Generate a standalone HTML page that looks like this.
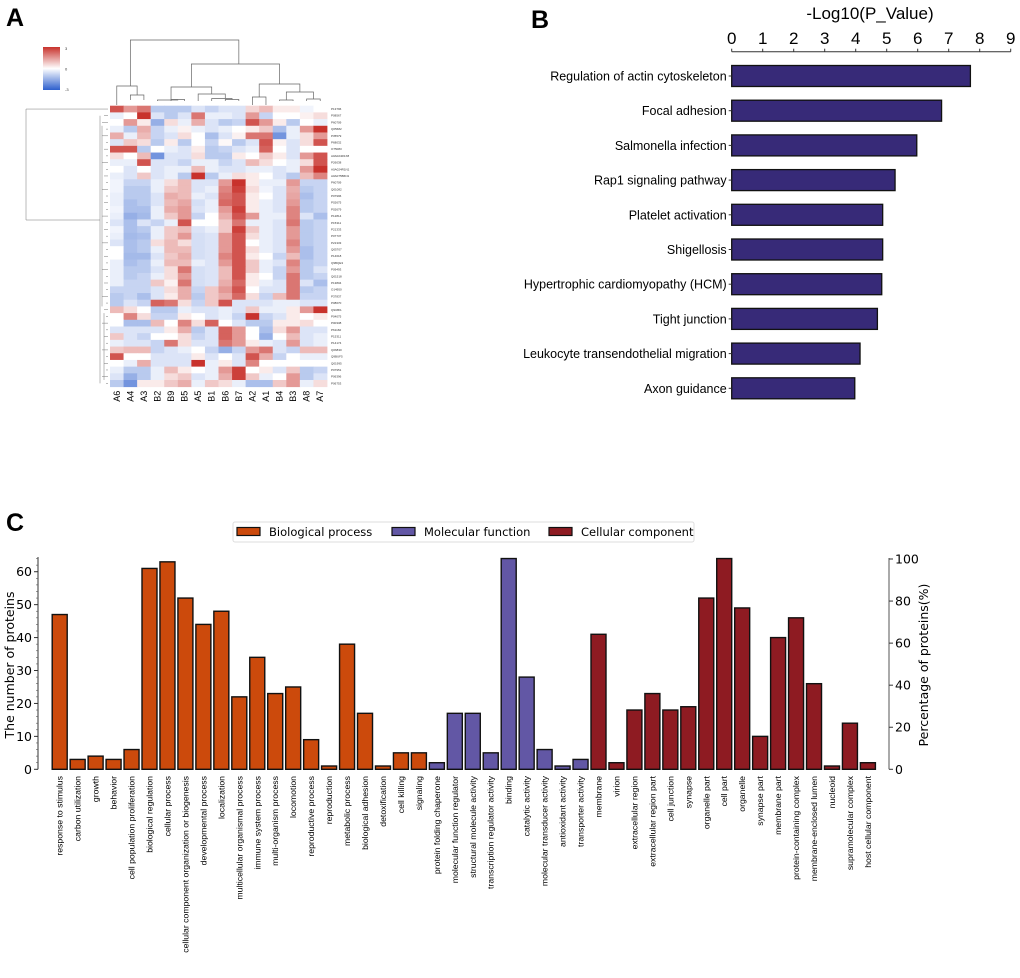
<!DOCTYPE html>
<html><head><meta charset="utf-8">
<style>
html,body{margin:0;padding:0;background:#fff;}
svg{display:block;font-family:"Liberation Sans",sans-serif;}
</style></head>
<body>
<svg id="fig" width="1020" height="978" viewBox="0 0 1020 978" xmlns="http://www.w3.org/2000/svg">
  <text x="6" y="26" font-size="25" font-weight="bold">A</text>
  <text x="531" y="28" font-size="25" font-weight="bold">B</text>
  <text x="6" y="531" font-size="25" font-weight="bold">C</text>
  <g id="heatmap"></g>
  <g id="barB"></g>
  <g id="barC"></g>
</svg>
<script>
const NS="http://www.w3.org/2000/svg";
function mk(tag,attrs,parent,txt){const e=document.createElementNS(NS,tag);for(const k in attrs)e.setAttribute(k,attrs[k]);if(txt!==undefined)e.textContent=txt;parent.appendChild(e);return e;}

/* ---------- Panel A data ---------- */
const heatCols=["A6","A4","A3","B2","B9","B5","A5","B1","B6","B7","A2","A1","B4","B3","A8","A7"];
const heatRows=["P13796","P08567","P60709","Q05682","P35579","P68032","O75083","A0A024R1X8","P26038","A0A024R1N1","A0A075B6N1","P60709","Q01082","P07996","P02675","P02679","P12814","P15311","P21333","P07737","P21333","Q05707","P14618","Q9BQE3","P09493","Q01518","P13804","O14950","P37837","P08670","Q9UBI1","P04075","P00338","P61160","P15311","P14174","Q06830","Q9BUF5","Q01995","P07951","P06396","P06753"];
const heatVals=[
[2.5,1.5,2,-1,-1,-1,-0.5,-0.8,-0.5,-0.5,0.6,1,0.3,0.3,-0.2,0],
[-0.3,0,3,-0.5,-1,-0.5,2,-0.3,-0.3,-0.5,1.5,-0.8,0,0,0.2,0.5],
[0,1.5,0.3,-1.5,0.5,-0.3,1.2,-0.5,-1,-0.8,2.5,1.5,0.3,-1,0,-0.3],
[-0.3,-1,1.2,-0.8,-0.3,0.2,-0.3,-0.5,-0.3,0,0.3,0.8,-1.2,-0.3,1.5,3],
[1.2,-0.3,1,-0.8,-0.5,0.5,0,-1.2,-0.5,0.2,2,2,-2,-0.3,0.5,1.5],
[-0.5,0.8,0.5,-1,0.3,-1,0,-0.8,0.1,-1,-0.5,2.5,0.2,-0.5,0.5,2.5],
[2.5,2.5,-1,0,-0.3,-0.5,0.3,-1,-0.8,-0.5,-0.3,2.3,0,-0.5,0,0],
[0.5,0,1,-2,-0.5,-0.5,0.5,-1,-1,0.3,0,0.8,0.3,-0.5,1.5,2.5],
[-0.3,-0.3,2.5,-0.5,-0.5,-0.8,-0.3,-0.3,-0.8,-0.5,1,0.5,0,-0.3,0.5,2.5],
[0,-0.5,0,-0.5,-0.3,-0.3,1,-0.3,-0.5,-0.5,-0.3,-0.3,-0.5,-0.3,1.5,3],
[-0.3,-0.5,0.8,-0.5,-0.3,-1,3,-1,-0.3,0.5,0.3,0,-0.5,-1,1,1.8],
[-0.2,-0.8,-0.8,-0.3,0.5,1,-0.5,-0.5,1.5,3,0.3,-0.3,-0.3,1.5,-0.8,-0.8],
[-0.2,-1,-1,-0.3,0.8,1,-0.5,-0.3,1.8,2.8,0.5,-0.2,-0.5,1.2,-1,-0.8],
[-0.3,-1,-1,-0.5,1.2,1,-0.3,-0.5,2,2.5,0.3,0,-0.5,1.3,-1.2,-0.8],
[-0.3,-1.2,-1,-0.5,1,1.3,-0.6,-0.3,2.2,2.5,0.3,-0.3,-0.5,1.5,-1,-0.8],
[-0.2,-1.2,-1.2,-0.3,1.2,1.5,-0.5,-0.3,1.5,2.8,0.3,-0.3,-0.5,1.8,-1,-0.8],
[-0.3,-1.5,-1.3,-0.3,0.8,1.5,-0.8,0,1.2,2.5,1.5,-0.3,-0.3,1.8,-0.5,-1.2],
[-0.5,-1.2,-0.5,-0.8,-0.3,2.5,0,0,0.8,2,-0.3,-0.3,-0.5,2,-1,-0.8],
[-0.2,-1.2,-1,-0.3,0.8,1,-0.5,-0.3,0.8,2.8,0.8,-0.3,-0.5,1.5,-1,-0.8],
[-0.3,-1.3,-1.2,-0.3,0.8,1.5,-0.6,-0.5,1.5,2.5,0.5,-0.3,-0.5,1.5,-1,-0.8],
[-0.5,-1.2,-1,0.5,1,0.5,-0.6,-0.5,1.5,2.5,0,-0.3,-0.5,1.8,-1,-0.8],
[0,-1.2,-1,-0.3,1,1,-0.6,-0.5,1.5,2.5,0.5,-0.3,-0.5,1.5,-1.2,-0.8],
[0,-1.3,-1.3,-0.5,0.8,1.2,-0.6,-0.5,1.8,2.5,0.3,0,-0.8,1,-1.2,-0.8],
[-0.3,-1.2,-1,-0.3,1,1,-0.3,-0.5,1.5,2.5,0.8,-0.3,-0.5,1.8,-1,-0.8],
[-0.3,-1,-1,-0.5,0.5,2,-0.6,-0.5,1,2.5,0.8,-0.3,-0.8,1.5,-1,-0.5],
[-0.3,-1,-0.8,-0.3,0.5,1.5,-0.6,-0.5,1,2.5,0.3,0,-0.8,2,-1,-0.8],
[-0.3,-0.8,-0.8,0.8,0.2,2,-0.6,-0.5,1.2,2.2,0.3,-0.3,-0.5,2,-0.5,-1.2],
[-0.8,-0.8,-0.8,-0.5,0.5,1.2,-0.8,0.8,1.5,2.5,0,-0.5,-0.5,2,-1,-0.8],
[-1,-0.8,-1.2,-0.5,0.3,1.2,-1,0.8,1.2,2.2,0.5,-0.8,1,2,-0.8,-0.8],
[-1,-0.5,-0.8,2.3,2,0.5,-0.8,0.8,2.5,-0.5,-0.5,-0.5,-0.3,-0.3,-0.5,-0.5],
[1,0.5,0,-1,-1,-0.3,-0.5,-0.5,-0.3,-0.5,0.8,-0.3,-0.3,0.3,1.5,3],
[0,1.8,0.5,-0.8,-0.8,0.3,0,-0.5,-0.3,-0.8,3,-0.8,-0.5,0.3,0,0.3],
[0,-1.2,-1.2,1,0,1.8,0.5,2.3,0,-0.5,-1,-1,0.3,0.3,0.5,0],
[-0.5,-0.5,-0.5,-0.5,0.3,1.2,-1,-0.5,2.3,1.5,0,-1.2,0.5,1.5,-0.5,-0.5],
[0.8,-0.5,-0.8,0,0,0.5,-0.8,-0.5,2.3,1.5,0,-1.5,0,1,-0.5,-0.3],
[-0.3,-0.5,-0.5,-0.8,2,0.5,-0.5,-0.5,2,1.5,0.3,-0.3,-0.5,1.5,-0.5,-0.3],
[0.8,1,1,-0.8,-0.5,-0.3,0,-0.8,-1.5,-0.8,1.5,2,-0.5,-0.8,1,1],
[2.5,0,0,-0.5,-0.5,-0.5,0.3,-0.5,0,-0.5,2.5,1.2,-0.8,0,-0.3,-0.3],
[0,-0.3,1.2,-0.5,-0.5,-0.5,3,-0.3,0.3,-0.5,1.8,0,0,0,0,0],
[-0.3,-1,-1,-0.3,1,0.3,0,-0.3,1.5,2.8,0,0.3,-0.5,0.8,-1,-0.8],
[-0.5,-1.5,-1,-0.3,0.5,0.8,-0.5,-0.3,1.2,2.8,0.8,-0.3,0,1.5,-1,-0.5],
[-1,-2,0.3,0.3,0.8,1.2,-0.3,0.8,0.5,-0.3,-1.2,-1.2,0.8,1.5,-0.3,0.5]
];
const colorbarTicks=["3","0","-3"];
const rowLeafDepth=[2,3,1,3,1,2,1,3,1,2,1,3,1,2,1,3,1,2,1,3,1,2,1,3,1,2,1,3,1,2,1,3,1,2,1,3,1,2,1,3,1];

/* ---------- Panel B data ---------- */
const pathwayNames=["Regulation of actin cytoskeleton","Focal adhesion","Salmonella infection","Rap1 signaling pathway","Platelet activation","Shigellosis","Hypertrophic cardiomyopathy (HCM)","Tight junction","Leukocyte transendothelial migration","Axon guidance"];
const pathwayValues=[7.7,6.77,5.97,5.27,4.87,4.87,4.84,4.70,4.14,3.97];
const pathwayTicks=[0,1,2,3,4,5,6,7,8,9];

/* ---------- Panel C data ---------- */
const goTerms=["response to stimulus","carbon utilization","growth","behavior","cell population proliferation","biological regulation","cellular process","cellular component organization or biogenesis","developmental process","localization","multicellular organismal process","immune system process","multi-organism process","locomotion","reproductive process","reproduction","metabolic process","biological adhesion","detoxification","cell killing","signaling",
"protein folding chaperone","molecular function regulator","structural molecule activity","transcription regulator activity","binding","catalytic activity","molecular transducer activity","antioxidant activity","transporter activity",
"membrane","virion","extracellular region","extracellular region part","cell junction","synapse","organelle part","cell part","organelle","synapse part","membrane part","protein-containing complex","membrane-enclosed lumen","nucleoid","supramolecular complex","host cellular component"];
const goCategory=["BP","BP","BP","BP","BP","BP","BP","BP","BP","BP","BP","BP","BP","BP","BP","BP","BP","BP","BP","BP","BP",
"MF","MF","MF","MF","MF","MF","MF","MF","MF",
"CC","CC","CC","CC","CC","CC","CC","CC","CC","CC","CC","CC","CC","CC","CC","CC"];
const goCounts=[47,3,4,3,6,61,63,52,44,48,22,34,23,25,9,1,38,17,1,5,5,
2,17,17,5,64,28,6,1,3,
41,2,18,23,18,19,52,64,49,10,40,46,26,1,14,2];
const leftTicks=[0,10,20,30,40,50,60];
const rightTicks=[0,20,40,60,80,100];
const legendNames=["Biological process","Molecular function","Cellular component"];

/* ---------- Draw Panel A ---------- */
(function(){
  const g=document.getElementById('heatmap');
  const x0=110,x1=327,y0=105.7,y1=386.7;
  const nC=heatCols.length,nR=heatVals.length;
  const cw=(x1-x0)/nC,rh=(y1-y0)/nR;
  const red=[200,50,44],blue=[45,95,205];
  function col(v){v=Math.max(-3,Math.min(3,v));const t=Math.abs(v)/3;const c=v>=0?red:blue;
    const r=Math.round(255+(c[0]-255)*t),gg=Math.round(255+(c[1]-255)*t),b=Math.round(255+(c[2]-255)*t);return `rgb(${r},${gg},${b})`;}
  const xs=c=>x0+c*cw, ys=r=>y0+r*rh;
  for(let r=0;r<nR;r++){for(let c=0;c<nC;c++){
    const e=mk('rect',{x:xs(c),y:ys(r),width:cw+0.4,height:rh+0.4,fill:col(heatVals[r][c])},g);
    
    
  }}
  for(let r=0;r<nR;r++){
    const t=mk('text',{x:x1+4,y:ys(r)+rh/2+1,'font-size':3,fill:'#333'},g,heatRows[r]);
    
    
  }
  for(let c=0;c<nC;c++){
    const cx=xs(c)+cw/2;
    const t=mk('text',{x:cx+3,y:y1+4,'font-size':9,'text-anchor':'end',transform:`rotate(-90 ${cx+3} ${y1+4})`},g,heatCols[c]);
    
    
  }
  const defs=mk('defs',{},g);
  const lg=mk('linearGradient',{id:'cbg',x1:0,y1:0,x2:0,y2:1},defs);
  mk('stop',{offset:'0','stop-color':col(3)},lg);mk('stop',{offset:'0.5','stop-color':'#fff'},lg);mk('stop',{offset:'1','stop-color':col(-3)},lg);
  const cb=mk('rect',{x:43,y:47,width:17,height:43,fill:'url(#cbg)'},g);
  
  
  colorbarTicks.forEach((tk,i)=>{
    const t=mk('text',{x:65,y:50+i*20.5,'font-size':4,fill:'#333'},g,tk);
    
    
  });
  const cx=i=>xs(i)+cw/2;
  const dp=[];
  function U(xa,xb,ya,yb,top){dp.push(`M${xa},${ya}V${top}H${xb}V${yb}`);}
  U(cx(1),cx(2),100,100,95);
  U(cx(0),(cx(1)+cx(2))/2,105,95,86);
  U(cx(4),cx(5),101,101,99.5);
  U(cx(3),(cx(4)+cx(5))/2,101,99.5,100);
  U(cx(8),cx(9),101,101,99.5);
  U(cx(7),(cx(8)+cx(9))/2,101,99.5,98.5);
  U(cx(6),(cx(7)+cx(8)+cx(9))/3,101,98.5,94);
  U((cx(3)+cx(4)+cx(5))/3,(cx(6)+cx(8))/2,100,94,87);
  U(cx(10),cx(11),105,105,97);
  U(cx(12),cx(13),101,101,100);
  U(cx(14),cx(15),101,101,99);
  U((cx(12)+cx(13))/2,(cx(14)+cx(15))/2,100,99,92);
  U((cx(10)+cx(11))/2,(cx(12)+cx(15))/2,97,92,84);
  U((cx(4)+cx(7))/2,(cx(11)+cx(13))/2,87,84,64);
  U((cx(0)+cx(2))/2,(cx(6)+cx(12))/2,86,64,40);
  const d1=mk('path',{d:dp.join(''),fill:'none',stroke:'#666','stroke-width':0.7},g);
  
  
  // row dendrogram
  let rp=`M${x0-2},${ys(0)+rh/2}H26V220H100 M100,${ys(1)+rh/2}V${ys(41)+rh/2}`;
  for(let r=1;r<nR;r++){rp+=` M${108-rowLeafDepth[r-1]*2},${ys(r)+rh/2}H${x0-2}`;}
  rp+=` M102,${ys(3)}V${ys(30)} M104,${ys(31)}V${ys(41)}`;
  const d2=mk('path',{d:rp,fill:'none',stroke:'#777','stroke-width':0.5},g);
  
  
})();

/* ---------- Draw Panel B ---------- */
(function(){
  const g=document.getElementById('barB');
  const ax0=731.7,unit=31,axY=51.7,firstC=76,pitch=34.7,bh=21;
  const xB=v=>ax0+v*unit, yB=i=>firstC+i*pitch;
  const t0=mk('text',{x:870,y:19,'font-size':17,'text-anchor':'middle'},g,'-Log10(P_Value)');
  
  
  const al=mk('line',{x1:xB(0),x2:xB(9),y1:axY,y2:axY,stroke:'#333','stroke-width':1},g);
  
  
  pathwayTicks.forEach(v=>{
    mk('line',{x1:xB(v),x2:xB(v),y1:axY,y2:axY-3,stroke:'#333'},g);
    const t=mk('text',{x:xB(v),y:44,'font-size':17,'text-anchor':'middle'},g,String(v));
    
    
  });
  pathwayNames.forEach((n,i)=>{
    const b=mk('rect',{x:xB(0),y:yB(i)-bh/2,width:xB(pathwayValues[i])-xB(0),height:bh,fill:'#372a78',stroke:'#111','stroke-width':1.3},g);
    
    
    mk('line',{x1:xB(0)-3,x2:xB(0),y1:yB(i),y2:yB(i),stroke:'#333'},g);
    const t=mk('text',{x:xB(0)-5,y:yB(i)+4.5,'font-size':12.5,'text-anchor':'end'},g,n);
    
    
  });
})();

/* ---------- Draw Panel C ---------- */
(function(){
  const g=document.getElementById('barC');
  const axL=38,axR=889,y0=769.3,unit=3.293,firstC=59.7,pitch=17.96,bw=15;
  const yC=v=>y0-v*unit, xC=i=>firstC+i*pitch;
  const pct=p=>y0-p*(y0-559)/100;
  const colors={BP:'#cc4a0c',MF:'#6257a5',CC:'#8e1b22'};
  const ff='"DejaVu Sans","Liberation Sans",sans-serif';
  mk('line',{x1:axL,x2:axL,y1:y0,y2:557,stroke:'#333'},g);
  for(let v=0;v<=64;v+=2) mk('line',{x1:axL-2,x2:axL,y1:yC(v),y2:yC(v),stroke:'#555','stroke-width':0.6},g);
  leftTicks.forEach(v=>{
    mk('line',{x1:axL-4,x2:axL,y1:yC(v),y2:yC(v),stroke:'#333'},g);
    const t=mk('text',{x:axL-6,y:yC(v)+4.5,'font-size':12.5,'text-anchor':'end','font-family':ff},g,String(v));
    
    
  });
  const yl=mk('text',{x:14,y:665,'font-size':12.5,'text-anchor':'middle','font-family':ff,transform:'rotate(-90 14 665)'},g,'The number of proteins');
  
  
  mk('line',{x1:axR,x2:axR,y1:y0,y2:558,stroke:'#555'},g);
  rightTicks.forEach(v=>{
    mk('line',{x1:axR,x2:axR+4,y1:pct(v),y2:pct(v),stroke:'#333'},g);
    const t=mk('text',{x:axR+6,y:pct(v)+4.5,'font-size':12.5,'font-family':ff},g,String(v));
    
    
  });
  const yr=mk('text',{x:928,y:665,'font-size':12.5,'text-anchor':'middle','font-family':ff,transform:'rotate(-90 928 665)'},g,'Percentage of proteins(%)');
  
  
  goTerms.forEach((n,i)=>{
    const v=goCounts[i];
    const b=mk('rect',{x:xC(i)-bw/2,y:yC(v),width:bw,height:yC(0)-yC(v),fill:colors[goCategory[i]],stroke:'#111','stroke-width':1.4},g);
    
    
    const lx=xC(i)+3,ly=776;
    const t=mk('text',{x:lx,y:ly,'font-size':8.7,'text-anchor':'end',transform:`rotate(-90 ${lx} ${ly})`},g,n);
    
    
  });
  const lgG=mk('g',{},g);
  
  
  mk('rect',{x:233,y:522,width:461,height:20,rx:2,fill:'#fff',stroke:'#ddd'},lgG);
  const lx=[237,392,549],cols=[colors.BP,colors.MF,colors.CC];
  legendNames.forEach((n,i)=>{
    mk('rect',{x:lx[i],y:527.5,width:23,height:8,fill:cols[i],stroke:'#111','stroke-width':1.2},lgG);
    const t=mk('text',{x:lx[i]+32,y:536,'font-size':11.5,'font-family':ff},lgG,n);
    
    
  });
})();
</script>
</body></html>
